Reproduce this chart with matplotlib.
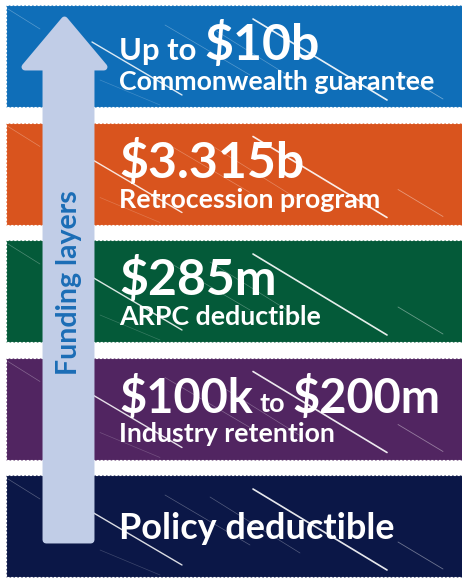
import matplotlib
matplotlib.use("Agg")
import matplotlib.pyplot as plt
from matplotlib.patches import Rectangle, Polygon

# ---- data ----
layer_labels = ["Commonwealth guarantee", "Retrocession program", "ARPC deductible",
                "Industry retention", "Policy deductible"]
layer_colors = ["#0F6EB8", "#D9541E", "#045A39", "#512561", "#0B1747"]
amount_parts = [
    [("Up to ", "small"), ("$10b", "big")],
    [("$3.315b", "big")],
    [("$285m", "big")],
    [("$100k", "big"), ("to", "tiny"), ("$200m", "big")],
    [],
]
arrow_label = "Funding layers"

W, H = 462, 578
DPI = 100
PX = 72.0 / DPI  # points per pixel

fig = plt.figure(figsize=(W / DPI, H / DPI), dpi=DPI)
ax = fig.add_axes([0, 0, 1, 1])
ax.set_xlim(0, W)
ax.set_ylim(H, 0)
ax.axis("off")

FONT = ["Lato", "DejaVu Sans"]
sizes = {"big": 50 * PX, "small": 31 * PX, "tiny": 27 * PX}

band_top0 = 5
band_h = 102
band_gap = 15.5
x_left = 6
text_x = 119

# diagonal white streaks (relative to band top): (x0, y0, x1, y1, lw, alpha)
streaks = [(92, 37, 182, 90, 1.0, 0.85), (253, 14, 387, 95, 1.2, 0.9),
           (398, 67, 443, 94, 0.6, 0.4), (165, 20, 250, 70, 0.5, 0.3),
           (210, 22, 300, 78, 0.5, 0.3), (8, 4, 40, 24, 0.5, 0.3),
           (100, 75, 160, 100, 0.5, 0.2)]

fig.canvas.draw()
renderer = fig.canvas.get_renderer()

for i, (lab, col, parts) in enumerate(zip(layer_labels, layer_colors, amount_parts)):
    top = band_top0 + i * (band_h + band_gap)
    ax.add_patch(Rectangle((x_left, top), W - x_left + 2, band_h, facecolor=col,
                           edgecolor="white", lw=0.8, ls=(0, (2, 1.5)), zorder=1))
    for (x0, y0, x1, y1, lw, a) in streaks:
        ax.plot([x0, x1], [top + y0, top + y1], color="white", lw=lw, alpha=a,
                zorder=2, solid_capstyle="round")
    if parts:
        base1 = top + 55
        xpos = text_x
        big = sizes["big"] if len(parts) < 3 else 47 * PX
        for j, (txt, sz) in enumerate(parts):
            fs = big if sz == "big" else sizes[sz]
            if sz == "tiny":
                xpos += 7
            t = ax.text(xpos, base1, txt, color="white", fontsize=fs,
                        fontweight="bold", family=FONT, va="baseline", ha="left", zorder=4)
            bb = t.get_window_extent(renderer)
            xpos += bb.width
            if sz == "tiny":
                xpos += 7
        ax.text(text_x, top + 85, lab, color="white", fontsize=26.8 * PX,
                fontweight="bold", family=FONT, va="baseline", ha="left", zorder=4)
    else:
        ax.text(text_x, top + 64, lab, color="white", fontsize=36 * PX,
                fontweight="bold", family=FONT, va="baseline", ha="left", zorder=4)

# big arrow
arrow_col = "#C1CDE7"
shaft_l, shaft_r = 46, 91
head_l, head_r = 25, 104
apex_y, head_base, shaft_bot = 20, 67, 540
apex_x = (head_l + head_r) / 2
pts = [(shaft_l, shaft_bot), (shaft_l, head_base), (head_l, head_base), (apex_x, apex_y),
       (head_r, head_base), (shaft_r, head_base), (shaft_r, shaft_bot)]
ax.add_patch(Polygon(pts, closed=True, facecolor=arrow_col, edgecolor=arrow_col,
                     lw=5, joinstyle="round", zorder=5))
ax.text((shaft_l + shaft_r) / 2 + 1, 283, arrow_label, rotation=90, color="#1B6DB6",
        fontsize=28.5 * PX, fontweight="bold", family=FONT, ha="center", va="center",
        zorder=6)

fig.savefig("out.png", dpi=DPI, facecolor="white")
